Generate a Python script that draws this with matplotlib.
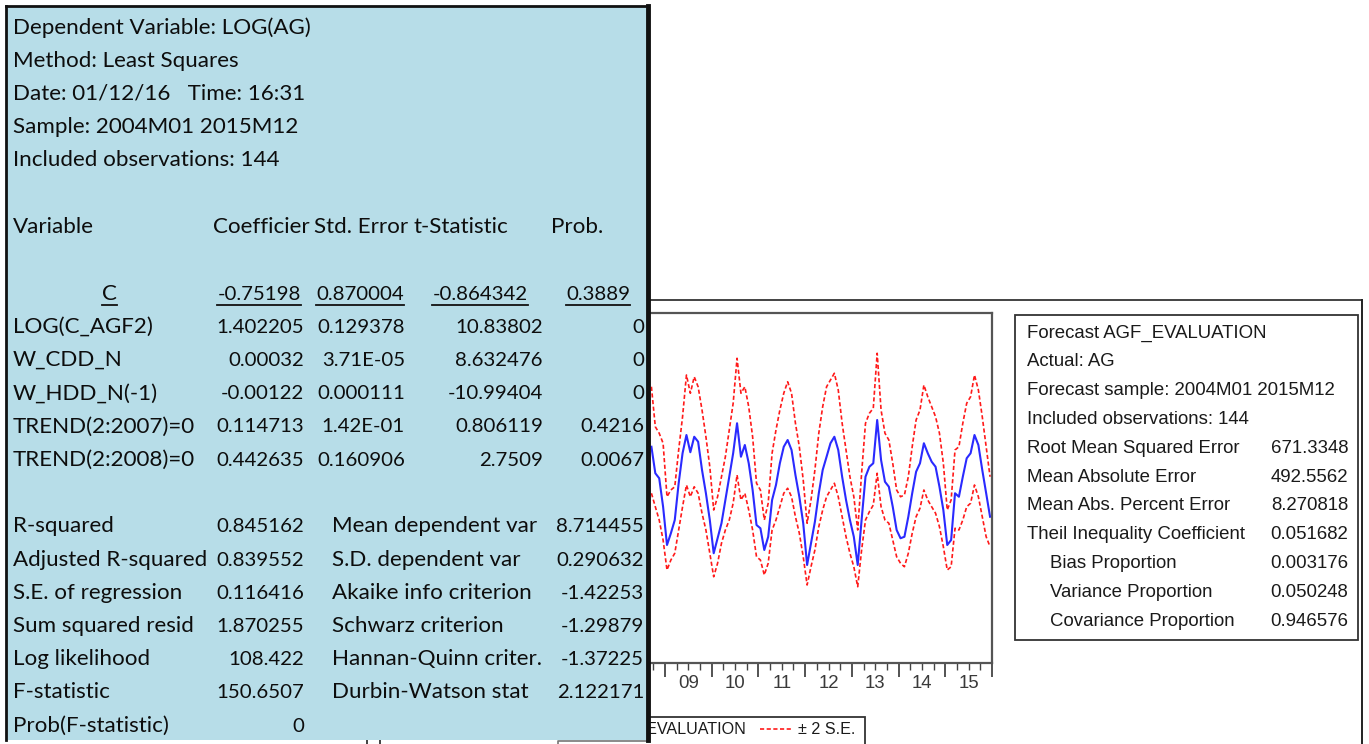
import numpy as np
import matplotlib
matplotlib.use('Agg')
import matplotlib.pyplot as plt
from matplotlib.patches import Rectangle
from matplotlib.textpath import TextPath
from matplotlib.font_manager import FontProperties

W, H = 1369, 744

# ---- forecast chart data (months counted from 2004M01, first visible = 2008M09)
first_month = 56
forecast = [8650, 7590, 7390, 6250, 4720, 5190, 5720, 7190, 8390, 9120, 8430, 9050,
            8850, 7720, 6790, 5720, 4390, 4990, 5590, 6520, 7450, 8390, 9590, 8250,
            8720, 7990, 6920, 5520, 5390, 4520, 5050, 6520, 7120, 7990, 8650, 8920,
            8520, 7520, 6650, 5590, 3920, 4790, 5650, 6790, 7720, 8250, 8790, 9050,
            8520, 7450, 6520, 5720, 5050, 3920, 5720, 7450, 7850, 7990, 9720, 8120,
            7250, 7050, 6250, 5320, 4990, 5050, 5850, 6790, 7650, 7990, 8790, 8390,
            8050, 7850, 7050, 6120, 4720, 4920, 6790, 6650, 7450, 8190, 8390, 9120,
            8720, 7720, 6790, 5850]
upper = [11050, 9450, 9190, 8790, 6650, 6920, 7050, 8520, 9850, 11520, 10790, 11450,
         11050, 10120, 9050, 7850, 6120, 6650, 7450, 8250, 9320, 10390, 12190, 10790,
         11050, 10250, 9050, 7190, 6920, 5720, 6390, 8390, 9320, 10120, 10790, 11250,
         10790, 9590, 8650, 7320, 5590, 6520, 7720, 9190, 10250, 11050, 11320, 11590,
         10920, 9590, 8520, 7450, 6650, 5320, 7590, 9590, 9990, 10190, 12390, 10120,
         9190, 8920, 7990, 6920, 6650, 6720, 7450, 8650, 9720, 10120, 11120, 10650,
         10250, 9850, 9190, 7990, 6120, 6520, 8520, 8650, 9590, 10390, 10650, 11520,
         10920, 9850, 8650, 7450]
lower = [6790, 6250, 5720, 4920, 3720, 4120, 4390, 5320, 6250, 7120, 6650, 7050,
         6790, 5990, 5320, 4390, 3450, 3990, 4790, 5320, 5720, 6390, 7520, 6520,
         6790, 6120, 5320, 4250, 4120, 3520, 3990, 5320, 5720, 6250, 6790, 6990,
         6650, 5850, 5190, 4250, 3120, 3850, 4520, 5450, 6120, 6650, 6920, 7190,
         6650, 5850, 5050, 4390, 3850, 3050, 4520, 5720, 6050, 6320, 7590, 6250,
         5720, 5590, 4920, 4250, 3990, 3850, 4390, 5190, 5850, 6190, 6920, 6520,
         6250, 5990, 5450, 4650, 3720, 3850, 5390, 5320, 5720, 6250, 6390, 7120,
         6650, 5850, 5050, 4650]
years = ['04', '05', '06', '07', '08', '09', '10', '11', '12', '13', '14', '15']

eval_labels = ['Forecast AGF_EVALUATION', 'Actual: AG', 'Forecast sample: 2004M01 2015M12',
               'Included observations: 144', 'Root Mean Squared Error', 'Mean Absolute Error',
               'Mean Abs. Percent Error', 'Theil Inequality Coefficient', 'Bias Proportion',
               'Variance Proportion', 'Covariance Proportion']
eval_values = ['', '', '', '', '671.3348', '492.5562', '8.270818', '0.051682',
               '0.003176', '0.050248', '0.946576']
eval_indent = [0, 0, 0, 0, 0, 0, 0, 0, 1, 1, 1]

# ---- regression table
header_lines = ['Dependent Variable: LOG(AG)', 'Method: Least Squares',
                'Date: 01/12/16   Time: 16:31', 'Sample: 2004M01 2015M12',
                'Included observations: 144']
col_heads = ['Variable', 'Coefficier', 'Std. Error', 't-Statistic', 'Prob.']
c_row = ['C', '-0.75198', '0.870004', '-0.864342', '0.3889']
var_names = ['LOG(C_AGF2)', 'W_CDD_N', 'W_HDD_N(-1)', 'TREND(2:2007)=0', 'TREND(2:2008)=0']
coefs = ['1.402205', '0.00032', '-0.00122', '0.114713', '0.442635']
std_errs = ['0.129378', '3.71E-05', '0.000111', '1.42E-01', '0.160906']
t_stats = ['10.83802', '8.632476', '-10.99404', '0.806119', '2.7509']
probs = ['0', '0', '0', '0.4216', '0.0067']
stat_names_l = ['R-squared', 'Adjusted R-squared', 'S.E. of regression', 'Sum squared resid',
                'Log likelihood', 'F-statistic', 'Prob(F-statistic)']
stat_vals_l = ['0.845162', '0.839552', '0.116416', '1.870255', '108.422', '150.6507', '0']
stat_names_r = ['Mean dependent var', 'S.D. dependent var', 'Akaike info criterion',
                'Schwarz criterion', 'Hannan-Quinn criter.', 'Durbin-Watson stat']
stat_vals_r = ['8.714455', '0.290632', '-1.42253', '-1.29879', '-1.37225', '2.122171']


def frac(x0, y0, x1, y1):
    return [x0 / W, 1 - y1 / H, (x1 - x0) / W, (y1 - y0) / H]


def fit_size(s, family, px):
    tp = TextPath((0, 0), s, size=10, prop=FontProperties(family=family))
    return 10 * px / (tp.get_extents().width * 100 / 72)


ev_font = 'Liberation Sans'
tb_font = 'Lato'
ev_size = fit_size('Root Mean Squared Error', ev_font, 212)
lg_size = fit_size('EVALUATION', ev_font, 97)
tb_size = fit_size('Adjusted R-squared', tb_font, 192)
num_size = fit_size('0.839552', tb_font, 86)

fig = plt.figure(figsize=(W / 100, H / 100), dpi=100)

# ---- EViews forecast graph
ax = fig.add_axes(frac(431.5, 313, 992, 663), zorder=2)
months = np.arange(first_month, first_month + len(forecast)) + 0.5
ax.plot(months, forecast, color='#2a2aff', lw=1.5)
ax.plot(months, upper, color='#ff1a1a', lw=1.2, ls=(0, (2.5, 1.5)))
ax.plot(months, lower, color='#ff1a1a', lw=1.2, ls=(0, (2.5, 1.5)))
ax.set_xlim(0, 144)
ax.set_ylim(0, 14000)
ax.set_yticks(np.arange(0, 14001, 2000))
ax.set_yticklabels([])
ax.set_xticks(np.arange(0, 145, 12))
ax.set_xticklabels([])
ax.set_xticks(np.arange(0, 145, 3), minor=True)
ax.tick_params(axis='x', which='major', direction='out', length=10, width=1.3, color='#444')
ax.tick_params(axis='x', which='minor', direction='out', length=5, width=1.0, color='#444')
for s in ax.spines.values():
    s.set_color('#555555')
    s.set_linewidth(1.6)
for k, yr in enumerate(years):
    xm = 12 * k + 6
    if 431.5 + xm * (992 - 431.5) / 144 < 660:
        continue  # label sits behind the regression table
    ax.text(xm, -20 / 350, yr, transform=ax.get_xaxis_transform(),
            ha='center', va='center', fontsize=ev_size, family=ev_font, color='#3a3a3a')

# overlay in pixel coordinates: frames, evaluation box, legend
ov = fig.add_axes([0, 0, 1, 1], zorder=3)
ov.set_xlim(0, W)
ov.set_ylim(H, 0)
ov.axis('off')
ov.plot([648, 1362], [300, 300], color='#222222', lw=1.2)
ov.plot([1362, 1362], [300, H], color='#222222', lw=1.4)
ov.plot([367, 367], [739, H], color='#222222', lw=1.2)
ov.plot([558, 558, 648], [H, 741, 741], color='#777777', lw=1.2)

ov.add_patch(Rectangle((1015, 315), 1358 - 1015, 640 - 315, fill=False,
                       edgecolor='#333333', lw=1.3))
for k, lab in enumerate(eval_labels):
    yb = 337.5 + 28.8 * k
    ov.text(1027 + 23 * eval_indent[k], yb, lab, ha='left', va='baseline',
            fontsize=ev_size, family=ev_font, color='#1a1a1a')
    if eval_values[k]:
        ov.text(1348, yb, eval_values[k], ha='right', va='baseline',
                fontsize=ev_size, family=ev_font, color='#1a1a1a')

ov.add_patch(Rectangle((380, 717), 865 - 380, 60, fill=False, edgecolor='#333333', lw=1.3))
ov.plot([470, 502], [729, 729], color='#2a2aff', lw=1.5)
ov.text(747, 734, 'AGF_EVALUATION', ha='right', va='baseline',
        fontsize=lg_size, family=ev_font, color='#1a1a1a')
ov.plot([760, 792], [729, 729], color='#ff1a1a', lw=1.2, ls=(0, (2.5, 1.5)))
ov.text(798, 734, '\u00b1 2 S.E.', ha='left', va='baseline',
        fontsize=lg_size, family=ev_font, color='#1a1a1a')

# ---- regression output table (light blue, on top)
tb = fig.add_axes(frac(6, 6, 648, 740), zorder=5, facecolor='#b7dde8')
tb.set_xlim(6, 648)
tb.set_ylim(740, 6)
tb.set_xticks([])
tb.set_yticks([])
tb.spines['bottom'].set_visible(False)
tb.spines['top'].set_linewidth(2)
tb.spines['left'].set_linewidth(2)
tb.spines['right'].set_linewidth(3.5)
for s in tb.spines.values():
    s.set_color('#111111')


def row_y(k):
    return 33.5 + 33.25 * k


def put(x, k, s, ha='left', size=None):
    return tb.text(x, row_y(k), s, ha=ha, va='baseline', fontsize=size or tb_size,
                   family=tb_font, color='#0d0d0d')


for k, s in enumerate(header_lines):
    put(13, k, s)
for x, s in zip([13, 213, 314, 414, 551], col_heads):
    put(x, 6, s)

c_texts = [tb.text(x, row_y(8), s, ha='center', va='baseline',
                   fontsize=tb_size if i == 0 else num_size,
                   family=tb_font, color='#0d0d0d')
           for i, (x, s) in enumerate(zip([109.5, 259, 360, 480, 598], c_row))]

for k in range(len(var_names)):
    r = 9 + k
    put(13, r, var_names[k])
    put(304, r, coefs[k], 'right', num_size)
    put(405, r, std_errs[k], 'right', num_size)
    put(543, r, t_stats[k], 'right', num_size)
    put(644, r, probs[k], 'right', num_size)

for k in range(len(stat_names_l)):
    r = 15 + k
    put(13, r, stat_names_l[k])
    put(304, r, stat_vals_l[k], 'right', num_size)
    if k < len(stat_names_r):
        put(332, r, stat_names_r[k])
        put(644, r, stat_vals_r[k], 'right', num_size)

# underline the C row
fig.canvas.draw()
rend = fig.canvas.get_renderer()
inv = tb.transData.inverted()
for t in c_texts:
    bb = t.get_window_extent(rend)
    (xa, _), (xb, _) = inv.transform([(bb.x0, bb.y0), (bb.x1, bb.y0)])
    tb.plot([xa, xb], [row_y(8) + 5, row_y(8) + 5], color='#111111', lw=1.3)

fig.savefig('out.png', dpi=100)
